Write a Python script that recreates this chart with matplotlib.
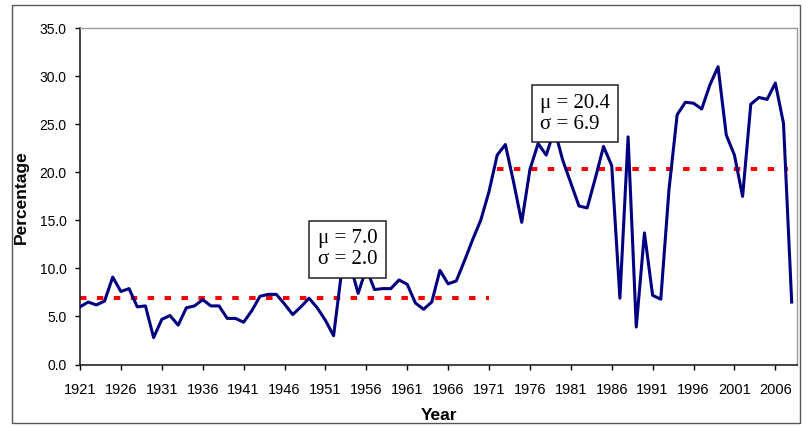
import matplotlib
matplotlib.use("Agg")
import matplotlib.pyplot as plt
from matplotlib.patches import Rectangle

# Data (percentage per year)
years = list(range(1921, 2009))
percentage = [
    6.0, 6.5, 6.2, 6.6, 9.1, 7.6, 7.9, 6.0, 6.1, 2.8,    # 1921-1930
    4.7, 5.1, 4.1, 5.9, 6.1, 6.75, 6.1, 6.1, 4.8, 4.8,   # 1931-1940
    4.4, 5.6, 7.1, 7.3, 7.3, 6.3, 5.2, 6.0, 6.9, 5.9,    # 1941-1950
    4.6, 3.0, 9.8, 10.5, 7.4, 10.0, 7.8, 7.9, 7.9, 8.8,  # 1951-1960
    8.35, 6.4, 5.75, 6.5, 9.8, 8.4, 8.7, 10.8, 13.0, 15.05,  # 1961-1970
    18.0, 21.8, 22.9, 19.0, 14.8, 20.3, 23.0, 21.8, 24.5, 21.3,  # 1971-1980
    18.9, 16.5, 16.3, 19.4, 22.7, 20.7, 6.9, 23.7, 3.9, 13.7,  # 1981-1990
    7.2, 6.8, 18.2, 26.0, 27.3, 27.2, 26.6, 29.1, 31.0, 23.9,  # 1991-2000
    21.8, 17.5, 27.1, 27.8, 27.6, 29.3, 25.1, 6.5,              # 2001-2008
]

period_start = [1921, 1972]
period_end = [1971, 2007.5]
period_mean = [6.9, 20.4]
label_mean = [7.0, 20.4]
label_std = [2.0, 6.9]
box_year = [1953.7, 1981.5]
box_level = [12.0, 26.1]

xtick_years = list(range(1921, 2007, 5))
ytick_vals = [0, 5, 10, 15, 20, 25, 30, 35]

fig = plt.figure(figsize=(8.06, 4.26), dpi=100)
ax = fig.add_axes([80 / 806, 1 - 364.5 / 426, 717 / 806, 336.2 / 426])

ax.plot(years, percentage, color="#000080", linewidth=2.2, zorder=3,
        solid_joinstyle="round")

for x0, x1, m in zip(period_start, period_end, period_mean):
    ax.plot([x0, x1], [m, m], color="red", linewidth=2.9,
            linestyle=(0, (1.6, 2.6)), dash_capstyle="butt", zorder=2)

for bx, by, m, s in zip(box_year, box_level, label_mean, label_std):
    ax.text(bx, by, "\u03bc = %.1f\n\u03c3 = %.1f" % (m, s),
            ha="center", va="center", multialignment="left", fontsize=15,
            family="Liberation Serif", linespacing=1.15, zorder=5,
            bbox=dict(boxstyle="square,pad=0.4", fc="white",
                      ec="#222222", lw=1.1))

ax.set_xlim(1921, 2008.65)
ax.set_ylim(0, 35)
ax.set_xticks(xtick_years)
ax.set_xticklabels([str(y) for y in xtick_years],
                   family=["Liberation Sans Narrow", "Liberation Sans"],
                   fontsize=10.5)
ax.set_yticks(ytick_vals)
ax.set_yticklabels(["%.1f" % v for v in ytick_vals],
                   family="Liberation Sans", fontsize=10)

ax.tick_params(axis="x", direction="out", length=3.5, width=1, pad=10)
ax.tick_params(axis="y", direction="out", length=3.5, width=1, pad=6)

for side in ["left", "bottom"]:
    ax.spines[side].set_color("#222222")
    ax.spines[side].set_linewidth(1.2)
for side in ["top", "right"]:
    ax.spines[side].set_color("#9a9a9a")
    ax.spines[side].set_linewidth(1.0)

fig.text(21 / 806, 1 - 197 / 426, "Percentage", rotation=90,
         ha="center", va="center", fontsize=12.5, fontweight="bold",
         family="Liberation Sans")
fig.text(439 / 806, 1 - 415 / 426, "Year", ha="center", va="center",
         fontsize=12.5, fontweight="bold", family="Liberation Sans")

# outer chart border
fig.patches.append(Rectangle((12 / 806, 3 / 426), 788 / 806, 418 / 426,
                             transform=fig.transFigure, fill=False,
                             edgecolor="#555555", linewidth=1.0))

fig.savefig("out.png", dpi=100)
